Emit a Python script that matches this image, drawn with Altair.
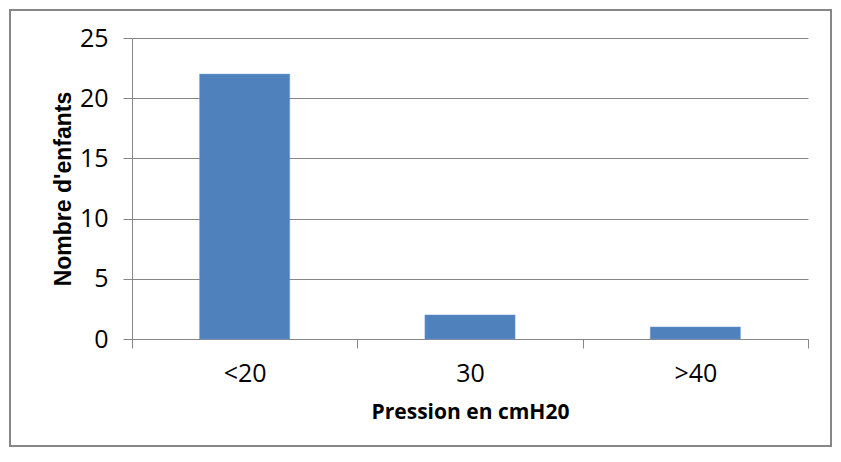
import altair as alt
import pandas as pd

categories = ["<20", "30", ">40"]
counts = [22, 2, 1]

df = pd.DataFrame({"cat": categories, "n": counts})
FONT = "Open Sans"
GRID = "#868686"

bars = alt.Chart(df).mark_bar(
    color="#4F81BD", stroke="#6C9AD2", strokeWidth=0.5,
    width=alt.RelativeBandSize(0.4),
).encode(
    x=alt.X("cat:N", sort=categories,
            scale=alt.Scale(paddingInner=0, paddingOuter=0),
            axis=alt.Axis(title="Pression en cmH20", labelAngle=0, tickBand="extent",
                          labelPadding=13, titlePadding=15)),
    y=alt.Y("n:Q", scale=alt.Scale(domain=[0, 25]),
            axis=alt.Axis(title="Nombre d'enfants", values=[0, 5, 10, 15, 20, 25],
                          grid=True, labelPadding=15, titlePadding=4,
                          titleFont="Liberation Sans", titleFontSize=23)),
)

border = alt.Chart(pd.DataFrame({"k": [0]})).mark_rect(
    fill=None, stroke=GRID, strokeWidth=2
).encode(x=alt.value(-122), x2=alt.value(699), y=alt.value(-28), y2=alt.value(408))

chart = alt.layer(border, bars).properties(
    width=676, height=301,
    autosize=alt.AutoSizeParams(type="none"),
    padding={"left": 124, "top": 30, "right": 25, "bottom": 110},
    background="white",
).configure_view(stroke=None).configure_axis(
    labelFont=FONT, labelFontSize=25, labelColor="#000000",
    titleFont=FONT, titleFontSize=21, titleFontWeight="bold", titleColor="#000000",
    tickSize=9, tickColor=GRID, domainColor=GRID, gridColor=GRID,
)

chart.save("out.html", embed_options={"renderer": "svg", "actions": False})
